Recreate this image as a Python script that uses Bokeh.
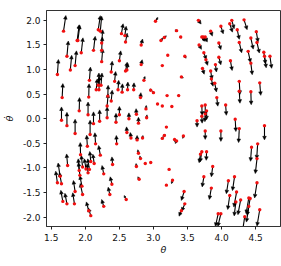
from bokeh.plotting import figure
from bokeh.models import Arrow, NormalHead, ColumnDataSource, FixedTicker, NumeralTickFormatter
from bokeh.embed import file_html
from bokeh.resources import INLINE

# theta, theta_dot, arrow d_theta, arrow d_theta_dot
samples = [
(1.68,1.78,.034,.318),(1.59,.90,.015,.305),(1.66,.43,.01,.284),(1.65,-.03,0,.27),(1.73,-.14,0,.27),
(1.73,1.27,.02,.31),(1.78,.99,.02,.30),(1.85,1.08,.02,.30),(1.88,1.59,.03,.32),(1.89,1.59,.03,.31),
(1.94,1.34,.025,.305),(1.91,.16,.005,.27),(1.85,-.30,0,.29),(2.04,.08,0,.26),(2.05,.44,.005,.27),
(2.06,.78,.015,.27),(2.12,1.39,.025,.285),(2.19,1.81,.03,.285),(2.22,1.78,.02,.305),(2.24,1.54,.015,.27),
(2.24,1.39,.01,.27),(2.24,1.16,.015,.26),(2.16,.59,.015,.22),(2.19,.68,.01,.25),(2.23,.68,.015,.25),
(2.20,.59,.01,.27),(2.32,.26,.015,.245),(2.33,.46,.005,.22),(2.38,.36,.015,.22),(2.12,-.10,0,.24),
(2.21,-.05,0,.23),(2.32,.02,0,.22),(2.38,.95,.015,.22),(2.43,.76,.015,.20),(2.45,-.07,0,.18),
(2.50,.08,0,.17),(2.48,.59,.01,.19),(2.54,.54,.005,.17),(2.50,1.18,.02,.20),(2.53,1.73,.025,.20),
(2.58,1.69,.02,.19),(2.59,1.56,.025,.18),(2.59,.97,.025,.18),(2.61,.99,.015,.14),(2.62,.59,.005,.155),
(2.71,.59,.005,.14),(2.64,0,0,.12),(2.75,.09,-.005,.115),(2.78,-.09,0,.12),(2.81,.43,.005,.10),
(2.82,1.50,.02,.12),(2.82,1.10,.015,.10),(2.86,.78,.015,.08),(2.89,.20,.005,.07),(2.90,.02,.005,.06),
(3.03,1.98,.035,.08),(3.34,1.79,.01,0),(3.11,1.59,.03,.05),(3.16,1.65,.03,.035),(3.40,1.66,.015,-.02),
(3.21,1.29,0,0),(3.46,1.27,.02,-.04),(3.13,1.08,0,0),(3.41,.85,.03,-.02),(2.96,.58,-.01,.03),
(3.00,.53,-.015,.03),(3.20,.47,0,0),(3.37,.47,.01,-.02),(3.06,.30,0,0),(3.13,.26,0,0),
(3.27,.25,0,0),(3.19,-.17,0,0),(3.66,2.00,.04,-.075),(3.84,1.78,.025,-.10),(3.99,1.88,.035,-.155),
(3.71,1.66,.03,-.08),(3.73,1.66,.03,-.09),(3.76,1.66,.03,-.10),(3.67,1.50,.035,-.09),(3.96,1.54,.03,-.135),
(3.74,1.34,.035,-.135),(3.77,1.20,.025,-.115),(3.72,1.02,.025,-.115),(3.91,1.10,.015,-.15),(3.96,1.25,.03,-.155),
(4.13,1.18,.025,-.20),(3.84,.97,.02,-.17),(3.85,.81,.025,-.15),(3.90,.72,.025,-.175),(3.93,.43,.015,-.175),
(4.06,.28,.01,-.21),(4.12,1.93,.04,-.17),(4.15,2.00,.035,-.17),(4.23,1.81,.03,-.195),(4.26,1.55,.035,-.21),
(4.33,2.01,.045,-.20),(4.43,1.64,.035,-.225),(4.51,1.77,.025,-.21),(4.52,1.55,.035,-.215),(4.39,1.37,.035,-.225),
(4.43,1.13,.02,-.235),(4.62,1.35,.025,-.235),(4.63,1.27,.025,-.235),(4.71,1.27,.025,-.245),(4.26,.76,.01,-.265),
(4.26,.56,.01,-.245),(4.43,.55,.005,-.265),(4.56,.73,.015,-.255),(3.71,.26,.005,-.19),(3.76,.28,0,-.21),
(3.78,.16,0,-.18),(3.71,.05,.005,-.14),(3.76,.10,-.005,-.16),(3.64,-.04,0,-.13),(4.20,-.01,.01,-.25),
(4.26,-.20,-.01,-.285),(3.76,-.25,0,-.17),(3.99,-.25,0,-.21),(4.63,-.14,0,-.29),(2.84,-.39,.005,.05),
(3.13,-.40,.015,.04),(3.16,-.34,.015,.02),(3.31,-.42,.01,-.055),(3.34,-.45,-.02,-.055),(3.44,-.35,-.01,-.05),
(4.44,-.58,-.015,-.285),(4.53,-.51,-.015,-.305),(4.52,-.81,-.025,-.305),(3.78,-.67,-.005,-.175),(3.71,-.67,-.025,-.21),
(3.69,-.72,-.02,-.175),(3.87,-.97,-.02,-.21),(3.74,-1.18,-.025,-.205),(3.85,-1.41,-.03,-.23),(4.10,-1.26,-.03,-.265),
(4.19,-1.18,-.03,-.28),(4.12,-1.56,-.03,-.285),(4.22,-1.49,-.04,-.305),(4.21,-1.69,-.025,-.285),(4.28,-1.65,-.04,-.30),
(4.40,-1.61,-.04,-.32),(4.42,-1.62,-.045,-.345),(4.40,-1.78,-.035,-.32),(4.52,-1.30,-.035,-.31),(4.56,-1.85,-.04,-.33),
(4.34,-1.99,-.03,-.27),(3.95,-1.93,-.04,-.26),(3.99,-1.93,-.045,-.26),(3.46,-1.73,-.045,-.15),(3.41,-1.87,-.035,-.11),
(3.45,-1.48,-.04,-.18),(3.23,-1.03,0,0),(3.19,-1.35,0,0),(3.28,-1.25,-.015,-.07),(2.88,-.91,0,0),
(2.96,-.89,0,0),(2.07,-.32,0,.29),(2.03,-.56,-.01,.225),(1.93,-.73,-.005,.245),(2.15,-.51,-.01,.225),
(2.22,-.74,-.025,.195),(2.46,-.51,-.005,.17),(2.61,-.28,-.005,.115),(2.67,-.39,-.01,.11),(2.76,-.43,0,.09),
(2.78,-.70,-.01,.07),(2.81,-.81,-.01,.055),(2.75,-.97,-.005,.06),(2.79,-1.23,-.02,.05),(2.60,-1.64,-.03,.08),
(1.74,-.95,-.015,.235),(1.59,-1.30,-.025,.235),(1.65,-1.32,-.03,.225),(1.63,-1.17,-.03,.27),(1.67,-1.68,-.03,.225),
(1.73,-1.73,-.03,.215),(1.84,-1.73,-.025,.225),(1.85,-1.48,-.025,.225),(1.96,-1.54,-.035,.225),(1.95,-1.37,-.03,.21),
(1.92,-1.15,-.02,.26),(1.96,-.98,-.02,.235),(1.91,-1.05,-.015,.235),(2.01,-1.02,-.025,.205),(2.04,-1.10,-.015,.19),
(2.06,-1.03,-.025,.215),(2.08,-.87,-.015,.205),(2.13,-.91,-.02,.19),(2.27,-1.12,-.025,.17),(2.40,-.93,-.01,.155),
(2.39,-1.33,-.025,.15),(2.36,-1.54,-.025,.15),(2.27,-1.78,-.03,.14),(2.08,-1.97,-.035,.155),(2.05,-1.87,-.035,.18),
]
x_ticks = [1.5, 2.0, 2.5, 3.0, 3.5, 4.0, 4.5]
y_ticks = [-2.0, -1.5, -1.0, -0.5, 0.0, 0.5, 1.0, 1.5, 2.0]
x_label = "\u03b8"
y_label = "\u03b8\u0307"
y_min, y_max = -2.19, 2.2

theta = [s[0] for s in samples]
dot = [s[1] for s in samples]
moving = [s for s in samples if s[2] or s[3]]
cut = [s for s in moving if s[1] + s[3] < y_min]
short = [s for s in moving if abs(s[3]) < 0.09 and abs(s[2]) < 0.04]
long_ = [s for s in moving if s not in cut and s not in short]
def columns(rows):
    return dict(x0=[s[0] for s in rows], y0=[s[1] for s in rows],
                x1=[s[0] + s[2] for s in rows], y1=[s[1] + s[3] for s in rows])

p = figure(width=281, height=266, output_backend="svg", toolbar_location=None,
           x_range=(1.43, 4.865), y_range=(y_min, y_max),
           min_border_left=46, min_border_right=1, min_border_top=10, min_border_bottom=40)
p.grid.visible = False
p.outline_line_color = "#333333"
p.outline_line_width = 1
p.outline_line_alpha = 1
for ax, ticks in ((p.xaxis, x_ticks), (p.yaxis, y_ticks)):
    ax.ticker = FixedTicker(ticks=ticks)
    ax.formatter = NumeralTickFormatter(format="0.0")
    ax.minor_tick_line_color = None
    ax.major_tick_in = 0
    ax.major_tick_out = 3
    ax.major_tick_line_color = "#222222"
    ax.axis_line_color = "#333333"
    ax.major_label_text_font = "DejaVu Sans"
    ax.major_label_text_font_size = "9px"
    ax.major_label_text_color = "#111111"
    ax.axis_label_text_font = "DejaVu Sans"
    ax.axis_label_text_font_style = "italic"
    ax.axis_label_text_font_size = "9.5px"
    ax.axis_label_text_color = "#111111"
p.xaxis.major_label_standoff = 4
p.xaxis.axis_label_standoff = 0
p.yaxis.major_label_standoff = 3
p.yaxis.axis_label_standoff = 5
p.xaxis.axis_label = x_label
p.yaxis.axis_label = y_label

for rows, head_size in ((long_, 3.6), (short, 2)):
    head = NormalHead(size=head_size, fill_color="black", line_color="black", line_width=0.5)
    p.add_layout(Arrow(end=head, x_start="x0", y_start="y0", x_end="x1", y_end="y1",
                       source=ColumnDataSource(columns(rows)),
                       line_color="black", line_width=1.1, level="glyph"))
p.segment("x0", "y0", "x1", "y1", source=ColumnDataSource(columns(cut)),
          line_color="black", line_width=1.1)
p.scatter(theta, dot, size=3.4, marker="circle", fill_color="#f01010", line_color=None, level="overlay")

open("out.html", "w").write(file_html(p, INLINE))
